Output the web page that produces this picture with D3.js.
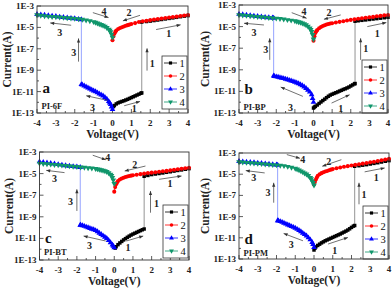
<!DOCTYPE html>
<html>
<head>
<meta charset="utf-8">
<script src="https://cdn.jsdelivr.net/npm/d3@7"></script>
<style>
body { margin: 0; background: #fff; }
svg { display: block; }
</style>
</head>
<body>
<div id="chart"></div>
<script>
// sweep voltages shared by the return sweeps (2 and 4)
var vPos = [0,0.05,0.1,0.15,0.2,0.3,0.4,0.5,0.6,0.7,0.8,0.9,1.0,1.2,1.4,1.6,1.8,2.0,2.2,2.4,2.6,2.8,3.0,3.2,3.4,3.6,3.8,4.0];
var vNeg = [0,-0.05,-0.1,-0.15,-0.2,-0.3,-0.4,-0.5,-0.6,-0.7,-0.8,-0.9,-1.0,-1.2,-1.4,-1.6,-1.8,-2.0,-2.2,-2.4,-2.6,-2.8,-3.0,-3.2,-3.4,-3.6,-3.8,-4.0];
var xTicks = [-4,-3,-2,-1,0,1,2,3,4];
var yTickExp = [-3,-5,-7,-9,-11,-13];
var yTickLabels = ["1E-3","1E-5","1E-7","1E-9","1E-11","1E-13"];
var seriesNames = ["1","2","3","4"];

// values are log10(current in A)
// a: PI-6F
var a1V = [0.05,0.1,0.2,0.3,0.4,0.5,0.6,0.7,0.8,0.9,1.0,1.1,1.2,1.3,1.4,1.5,1.55, 1.55,1.8,2.0,2.2,2.4,2.6,2.8,3.0,3.2,3.4,3.6,3.8,4.0];
var a1L = [-12.4,-12.3,-12.15,-12.05,-11.98,-11.92,-11.86,-11.79,-11.72,-11.64,-11.56,-11.48,-11.4,-11.32,-11.24,-11.16,-11.12, -4.5,-4.45,-4.41,-4.36,-4.31,-4.26,-4.21,-4.16,-4.11,-4.06,-4.0,-3.95,-3.9];
var a2L = [-6.2,-5.85,-5.6,-5.42,-5.3,-5.15,-5.05,-4.98,-4.91,-4.85,-4.79,-4.74,-4.69,-4.6,-4.5,-4.42,-4.37,-4.32,-4.27,-4.22,-4.17,-4.12,-4.07,-4.03,-3.99,-3.94,-3.89,-3.84];
var a3V = [0,-0.05,-0.1,-0.15,-0.2,-0.3,-0.4,-0.5,-0.6,-0.7,-0.8,-0.9,-1.0,-1.1,-1.2,-1.3,-1.4,-1.5,-1.6,-1.65, -1.65,-1.8,-2.0,-2.2,-2.4,-2.6,-2.8,-3.0,-3.2,-3.4,-3.6,-3.8,-4.0];
var a3L = [-12.65,-12.42,-12.2,-12.05,-11.92,-11.7,-11.53,-11.4,-11.3,-11.2,-11.1,-11.0,-10.92,-10.83,-10.74,-10.65,-10.55,-10.46,-10.37,-10.33, -4.27,-4.23,-4.18,-4.14,-4.1,-4.06,-4.02,-3.97,-3.93,-3.89,-3.85,-3.81,-3.78];
var a4L = [-5.94,-5.65,-5.42,-5.28,-5.18,-5.02,-4.9,-4.81,-4.74,-4.67,-4.6,-4.54,-4.48,-4.39,-4.32,-4.26,-4.21,-4.17,-4.14,-4.11,-4.08,-4.05,-4.02,-3.99,-3.96,-3.92,-3.88,-3.84];

// b: PI-BP
var b1V = [0,0.05,0.1,0.2,0.3,0.4,0.5,0.6,0.7,0.8,0.9,1.0,1.1,1.2,1.3,1.4,1.5,1.6,1.7,1.8,1.9,2.0,2.1,2.2,2.23, 2.23,2.4,2.6,2.8,3.0,3.2,3.4,3.6,3.8,4.0];
var b1L = [-12.54,-12.45,-12.38,-12.26,-12.12,-11.98,-11.85,-11.72,-11.58,-11.45,-11.34,-11.26,-11.19,-11.12,-11.05,-10.97,-10.9,-10.82,-10.76,-10.68,-10.6,-10.5,-10.4,-10.3,-10.27, -4.5,-4.46,-4.42,-4.38,-4.34,-4.3,-4.26,-4.22,-4.18,-4.14];
var b2L = [-6.3,-5.9,-5.6,-5.44,-5.31,-5.15,-5.03,-4.94,-4.87,-4.81,-4.76,-4.72,-4.69,-4.62,-4.56,-4.5,-4.44,-4.38,-4.33,-4.28,-4.23,-4.18,-4.14,-4.1,-4.05,-4.01,-3.96,-3.92];
var b3V = [0,-0.05,-0.1,-0.2,-0.3,-0.4,-0.5,-0.6,-0.7,-0.8,-0.9,-1.0,-1.1,-1.2,-1.3,-1.4,-1.5,-1.6,-1.7,-1.8,-1.9,-2.0,-2.1,-2.14, -2.14,-2.2,-2.4,-2.6,-2.8,-3.0,-3.2,-3.4,-3.6,-3.8,-4.0];
var b3L = [-12.0,-11.65,-11.3,-11.05,-10.87,-10.72,-10.58,-10.46,-10.36,-10.28,-10.2,-10.14,-10.08,-10.02,-9.96,-9.91,-9.86,-9.8,-9.76,-9.72,-9.68,-9.64,-9.6,-9.56, -4.2,-4.19,-4.16,-4.13,-4.09,-4.05,-4.01,-3.97,-3.93,-3.89,-3.85];
var b4L = [-6.17,-5.75,-5.46,-5.29,-5.15,-4.97,-4.84,-4.75,-4.68,-4.62,-4.57,-4.52,-4.48,-4.42,-4.37,-4.32,-4.27,-4.23,-4.2,-4.17,-4.14,-4.11,-4.08,-4.05,-4.01,-3.98,-3.95,-3.92];

// c: PI-BT
var c1V = [0.05,0.1,0.2,0.3,0.4,0.5,0.6,0.7,0.8,0.9,1.0,1.1,1.2,1.3,1.4,1.5,1.6, 1.6,1.8,2.0,2.2,2.4,2.6,2.8,3.0,3.2,3.4,3.6,3.8,4.0];
var c1L = [-11.9,-11.77,-11.58,-11.42,-11.28,-11.14,-11.02,-10.9,-10.79,-10.69,-10.6,-10.52,-10.44,-10.36,-10.28,-10.2,-10.13, -5.25,-5.17,-5.09,-5.04,-4.99,-4.94,-4.88,-4.83,-4.77,-4.71,-4.66,-4.6,-4.54];
var c2L = [-6.67,-6.25,-5.99,-5.82,-5.69,-5.55,-5.45,-5.38,-5.32,-5.27,-5.23,-5.19,-5.16,-5.1,-5.05,-5.0,-4.95,-4.91,-4.87,-4.83,-4.79,-4.75,-4.7,-4.65,-4.6,-4.55,-4.5,-4.45];
var c3V = [0,-0.05,-0.1,-0.2,-0.3,-0.4,-0.5,-0.6,-0.7,-0.8,-0.9,-1.0,-1.1,-1.2,-1.3,-1.4,-1.5,-1.6,-1.7,-1.8,-1.82, -1.82,-2.0,-2.2,-2.4,-2.6,-2.8,-3.0,-3.2,-3.4,-3.6,-3.8,-4.0];
var c3L = [-11.86,-11.72,-11.6,-11.38,-11.18,-11.0,-10.87,-10.75,-10.63,-10.5,-10.37,-10.26,-10.19,-10.13,-10.06,-10.0,-9.94,-9.87,-9.81,-9.77,-9.76, -4.42,-4.38,-4.34,-4.3,-4.25,-4.2,-4.15,-4.1,-4.05,-4.0,-3.95,-3.9];
var c4L = [-5.93,-5.6,-5.38,-5.2,-5.07,-4.93,-4.83,-4.76,-4.71,-4.66,-4.62,-4.58,-4.54,-4.5,-4.47,-4.43,-4.4,-4.36,-4.33,-4.3,-4.26,-4.23,-4.2,-4.17,-4.14,-4.11,-4.08,-4.05];

// d: PI-PM
var d1V = [0,0.05,0.1,0.2,0.3,0.4,0.5,0.6,0.7,0.8,0.9,1.0,1.1,1.2,1.3,1.4,1.5,1.6,1.7,1.8,1.9,2.0,2.1,2.17, 2.17,2.4,2.6,2.8,3.0,3.2,3.4,3.6,3.8,4.0];
var d1L = [-12.15,-11.98,-11.85,-11.72,-11.6,-11.48,-11.38,-11.28,-11.2,-11.12,-11.04,-10.96,-10.88,-10.8,-10.72,-10.64,-10.55,-10.46,-10.37,-10.27,-10.15,-10.02,-9.9,-9.84, -4.25,-4.2,-4.15,-4.1,-4.04,-3.98,-3.92,-3.85,-3.78,-3.72];
var d2L = [-5.97,-5.72,-5.5,-5.32,-5.15,-5.0,-4.9,-4.82,-4.75,-4.69,-4.63,-4.57,-4.52,-4.44,-4.37,-4.3,-4.24,-4.18,-4.12,-4.06,-4.0,-3.94,-3.88,-3.82,-3.76,-3.69,-3.62,-3.55];
var d3V = [0,-0.05,-0.1,-0.2,-0.3,-0.4,-0.5,-0.6,-0.7,-0.8,-0.9,-1.0,-1.1,-1.2,-1.3,-1.4,-1.5,-1.6,-1.7,-1.8,-1.9,-1.94, -1.94,-2.0,-2.2,-2.4,-2.6,-2.8,-3.0,-3.2,-3.4,-3.6,-3.8,-4.0];
var d3L = [-11.9,-11.62,-11.42,-11.18,-10.99,-10.82,-10.68,-10.55,-10.42,-10.3,-10.19,-10.09,-10.0,-9.93,-9.85,-9.77,-9.69,-9.61,-9.53,-9.46,-9.4,-9.38, -4.13,-4.12,-4.09,-4.05,-4.02,-3.98,-3.95,-3.91,-3.88,-3.85,-3.82,-3.79];
var d4L = [-6.03,-5.8,-5.62,-5.45,-5.32,-5.14,-5.0,-4.9,-4.8,-4.7,-4.61,-4.53,-4.46,-4.36,-4.28,-4.21,-4.17,-4.14,-4.11,-4.08,-4.05,-4.02,-3.99,-3.96,-3.93,-3.9,-3.87,-3.84];

// sweep-direction arrows: label, from (V, logI), to (V, logI), label at (V, logI)
var aArrows = [
  ["4", -1.04,-3.62, -0.21,-4.08, -0.45,-3.55],
  ["2", 1.46,-3.87, 0.55,-4.39, 0.88,-3.62],
  ["1", 2.31,-5.2, 3.61,-4.76, 2.98,-5.6],
  ["3", -2.19,-4.8, -3.3,-4.58, -2.8,-5.45],
  ["3", -1.8,-8.2, -1.8,-6.03, -2.05,-7.33],
  ["1", 1.83,-9.04, 1.83,-6.96, 2.11,-8.36],
  ["3", -0.26,-11.82, -1.39,-11.39, -1.06,-12.44],
  ["1", 0.62,-12.32, 1.46,-11.92, 1.15,-12.54]
];
var bArrows = [
  ["4", -1.17,-3.71, -0.37,-4.23, -0.51,-3.62],
  ["2", 1.46,-3.92, 0.56,-4.32, 0.83,-3.72],
  ["1", 2.89,-5.0, 3.91,-4.63, 3.42,-5.62],
  ["3", -2.66,-4.85, -3.73,-4.69, -3.2,-5.55],
  ["3", -2.35,-8.08, -2.35,-6.08, -2.57,-7.1],
  ["1", 2.53,-8.08, 2.53,-6.08, 2.8,-7.0],
  ["3", -0.57,-11.46, -1.76,-10.6, -1.23,-12.48],
  ["1", 0.97,-12.08, 1.94,-11.31, 1.46,-12.54]
];
var cArrows = [
  ["4", -1.15,-3.3, -0.45,-3.72, -0.35,-3.55],
  ["2", 1.67,-4.3, 0.56,-4.76, 1.1,-4.14],
  ["1", 2.4,-5.53, 3.6,-5.22, 2.98,-5.93],
  ["3", -2.66,-4.91, -3.64,-4.7, -3.2,-5.44],
  ["3", -2.0,-8.46, -2.0,-6.46, -2.34,-7.54],
  ["1", 1.94,-8.62, 1.94,-6.61, 2.26,-7.78],
  ["3", -0.46,-11.24, -1.64,-10.78, -1.32,-11.7],
  ["1", 0.65,-11.24, 1.55,-10.78, 0.74,-11.86]
];
var dArrows = [
  ["4", -1.45,-3.15, -0.75,-3.5, -0.6,-3.6],
  ["2", 1.46,-3.63, 0.44,-4.25, 0.78,-3.78],
  ["1", 2.7,-4.78, 3.77,-4.41, 3.32,-5.34],
  ["3", -2.63,-4.88, -3.64,-4.66, -3.22,-5.28],
  ["3", -2.15,-7.69, -2.15,-5.81, -2.45,-6.75],
  ["1", 2.4,-7.84, 2.4,-5.81, 2.67,-6.9],
  ["3", -0.59,-11.28, -1.62,-10.59, -1.21,-11.59],
  ["1", 0.75,-11.59, 1.81,-10.97, 1.1,-12.22]
];

var colors = ["#000000", "#ff0000", "#0000ff", "#10966b"];
var shapes = [d3.symbolSquare, d3.symbolCircle, d3.symbolTriangle, d3.symbolTriangle];
var markSize = [12, 13, 14, 14];

var panels = [
  {letter: "a", name: "PI-6F", box: [37, 188, 6, 113], yTitleX: 7, letterDy: -20, nameDy: -4, legTop: 56,
   s: [[a1V, a1L], [vPos, a2L], [a3V, a3L], [vNeg, a4L]], arrows: aArrows},
  {letter: "b", name: "PI-BP", box: [239, 388, 5, 113], yTitleX: 205, letterDy: -19, nameDy: -3, legTop: 60,
   s: [[b1V, b1L], [vPos, b2L], [b3V, b3L], [vNeg, b4L]], arrows: bArrows},
  {letter: "c", name: "PI-BT", box: [39.5, 189, 152, 260], yTitleX: 9, letterDy: -17, nameDy: -5, legTop: 205,
   s: [[c1V, c1L], [vPos, c2L], [c3V, c3L], [vNeg, c4L]], arrows: cArrows},
  {letter: "d", name: "PI-PM", box: [239, 389, 153, 259], yTitleX: 205, letterDy: -15, nameDy: -3, legTop: 206,
   s: [[d1V, d1L], [vPos, d2L], [d3V, d3L], [vNeg, d4L]], arrows: dArrows}
];

var serif = "'Liberation Serif', 'Times New Roman', serif";

var svg = d3.select("#chart")
  .append("svg")
  .attr("width", 392)
  .attr("height", 291);

svg.append("defs").append("marker")
  .attr("id", "ah")
  .attr("viewBox", "0 0 10 10")
  .attr("refX", 10).attr("refY", 5)
  .attr("markerUnits", "userSpaceOnUse")
  .attr("markerWidth", 5).attr("markerHeight", 4)
  .attr("orient", "auto")
  .append("path")
  .attr("d", "M0,1 L10,5 L0,9 Z")
  .attr("fill", "#333");

function symbolFor(i, size) {
  return d3.symbol().type(shapes[i]).size(size)();
}

panels.forEach(function(p) {
  var x0 = p.box[0], x1 = p.box[1], y0 = p.box[2], y1 = p.box[3];
  var x = d3.scaleLinear().domain([-4, 4]).range([x0, x1]);
  var y = d3.scaleLog().domain([1e-13, 1e-3]).range([y1, y0]);
  var g = svg.append("g");

  // ticks (inward)
  var minorX = d3.range(-4, 4.01, 0.5);
  g.selectAll(".xt").data(minorX).enter().append("line")
    .attr("x1", function(d) { return x(d); }).attr("x2", function(d) { return x(d); })
    .attr("y1", y1).attr("y2", function(d) { return Number.isInteger(d) ? y1 - 4 : y1 - 2; })
    .attr("stroke", "#333").attr("stroke-width", 0.8);
  var allExp = d3.range(-13, -2.9, 1);
  g.selectAll(".yt").data(allExp).enter().append("line")
    .attr("y1", function(d) { return y(Math.pow(10, d)); }).attr("y2", function(d) { return y(Math.pow(10, d)); })
    .attr("x1", x0).attr("x2", function(d) { return (d % 2 !== 0) ? x0 + 4 : x0 + 2; })
    .attr("stroke", "#333").attr("stroke-width", 0.8);

  // tick labels
  g.selectAll(".xl").data(xTicks).enter().append("text")
    .attr("x", function(d) { return x(d); })
    .attr("y", y1 + 12.5)
    .attr("text-anchor", "middle")
    .attr("font-family", serif).attr("font-weight", "bold").attr("font-size", 9)
    .attr("fill", "#222")
    .text(function(d) { return d; });
  g.selectAll(".yl").data(yTickExp).enter().append("text")
    .attr("x", x0 - 3)
    .attr("y", function(d) { return y(Math.pow(10, d)) + 3; })
    .attr("text-anchor", "end")
    .attr("font-family", serif).attr("font-weight", "bold").attr("font-size", 9)
    .attr("fill", "#222")
    .text(function(d, i) { return yTickLabels[i]; });

  // axis titles
  g.append("text")
    .attr("x", (x0 + x1) / 2).attr("y", y1 + 25)
    .attr("text-anchor", "middle")
    .attr("font-family", serif).attr("font-weight", "bold").attr("font-size", 11.5)
    .attr("fill", "#222")
    .text("Voltage(V)");
  g.append("text")
    .attr("transform", "translate(" + p.yTitleX + "," + ((y0 + y1) / 2) + ") rotate(-90)")
    .attr("text-anchor", "middle")
    .attr("dy", "0.35em")
    .attr("font-family", serif).attr("font-weight", "bold").attr("font-size", 11.5)
    .attr("fill", "#222")
    .text("Current(A)");

  // series: thin connecting line + markers
  var line = d3.line()
    .x(function(d) { return x(d[0]); })
    .y(function(d) { return y(Math.pow(10, d[1])); });
  p.s.forEach(function(s, i) {
    var pts = s[0].map(function(v, k) { return [v, s[1][k]]; });
    g.append("path")
      .datum(pts)
      .attr("d", line)
      .attr("fill", "none")
      .attr("stroke", i === 0 ? "#777" : (i === 2 ? "#7a8cff" : colors[i]))
      .attr("stroke-width", 0.8);
    g.selectAll(".m" + i).data(pts).enter().append("path")
      .attr("d", symbolFor(i, markSize[i]))
      .attr("transform", function(d) {
        return "translate(" + x(d[0]) + "," + y(Math.pow(10, d[1])) + ")" + (i === 3 ? " rotate(180)" : "");
      })
      .attr("fill", colors[i]);
  });

  // arrows
  p.arrows.forEach(function(a) {
    g.append("line")
      .attr("x1", x(a[1])).attr("y1", y(Math.pow(10, a[2])))
      .attr("x2", x(a[3])).attr("y2", y(Math.pow(10, a[4])))
      .attr("stroke", "#333").attr("stroke-width", 0.7)
      .attr("marker-end", "url(#ah)");
    g.append("text")
      .attr("x", x(a[5])).attr("y", y(Math.pow(10, a[6])))
      .attr("dy", "0.35em")
      .attr("text-anchor", "middle")
      .attr("font-family", serif).attr("font-weight", "bold").attr("font-size", 10)
      .attr("fill", "#222")
      .text(a[0]);
  });

  // panel letter and sample name
  g.append("text")
    .attr("x", x0 + 5.5).attr("y", y1 + p.letterDy)
    .attr("font-family", serif).attr("font-weight", "bold").attr("font-size", 15)
    .attr("fill", "#111")
    .text(p.letter);
  g.append("text")
    .attr("x", x0 + 4.5).attr("y", y1 + p.nameDy)
    .attr("font-family", serif).attr("font-weight", "bold").attr("font-size", 8.5)
    .attr("fill", "#222")
    .text(p.name);

  // legend
  var lw = 25, lh = 53, lx = x1 - lw - 1;
  var leg = g.append("g");
  leg.append("rect")
    .attr("x", lx).attr("y", p.legTop).attr("width", lw).attr("height", lh)
    .attr("fill", "#fff").attr("stroke", "#333").attr("stroke-width", 0.8);
  seriesNames.forEach(function(n, i) {
    var ry = p.legTop + 7 + i * 13;
    leg.append("line")
      .attr("x1", lx + 2).attr("x2", lx + 15).attr("y1", ry).attr("y2", ry)
      .attr("stroke", colors[i]).attr("stroke-width", 0.8);
    leg.append("path")
      .attr("d", symbolFor(i, 10))
      .attr("transform", "translate(" + (lx + 8.5) + "," + ry + ")" + (i === 3 ? " rotate(180)" : ""))
      .attr("fill", colors[i]);
    leg.append("text")
      .attr("x", lx + 17.5).attr("y", ry).attr("dy", "0.35em")
      .attr("font-family", serif).attr("font-size", 10.5)
      .attr("fill", "#111")
      .text(n);
  });

  // frame
  g.append("rect")
    .attr("x", x0).attr("y", y0).attr("width", x1 - x0).attr("height", y1 - y0)
    .attr("fill", "none").attr("stroke", "#333").attr("stroke-width", 0.9);
});
</script>
</body>
</html>
